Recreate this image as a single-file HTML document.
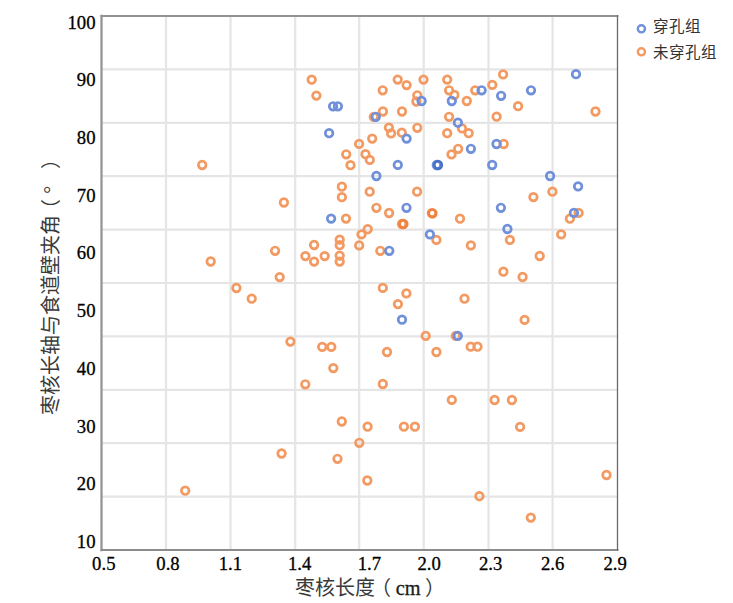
<!DOCTYPE html>
<html lang="zh-CN"><head><meta charset="utf-8"><title>scatter</title>
<style>html,body{margin:0;padding:0;background:#fff;width:733px;height:603px;overflow:hidden}svg{display:block}</style>
</head><body><svg width="733" height="603" viewBox="0 0 733 603"><rect x="0" y="0" width="733" height="603" fill="#fff"/><g stroke="#e5e5e5" stroke-width="2.2"><line x1="166.0" y1="16" x2="166.0" y2="550"/><line x1="230.5" y1="16" x2="230.5" y2="550"/><line x1="295.2" y1="16" x2="295.2" y2="550"/><line x1="359.2" y1="16" x2="359.2" y2="550"/><line x1="423.7" y1="16" x2="423.7" y2="550"/><line x1="488.5" y1="16" x2="488.5" y2="550"/><line x1="552.6" y1="16" x2="552.6" y2="550"/><line x1="101" y1="69.4" x2="617" y2="69.4"/><line x1="101" y1="122.8" x2="617" y2="122.8"/><line x1="101" y1="176.2" x2="617" y2="176.2"/><line x1="101" y1="229.6" x2="617" y2="229.6"/><line x1="101" y1="283.0" x2="617" y2="283.0"/><line x1="101" y1="336.4" x2="617" y2="336.4"/><line x1="101" y1="389.8" x2="617" y2="389.8"/><line x1="101" y1="443.2" x2="617" y2="443.2"/><line x1="101" y1="496.6" x2="617" y2="496.6"/></g><g fill="none" stroke-linecap="square"><line x1="101.5" y1="16" x2="101.5" y2="550" stroke="#959595" stroke-width="2.3"/><line x1="101.5" y1="550" x2="617.5" y2="550" stroke="#8c8c8c" stroke-width="2"/><line x1="101.5" y1="16" x2="617.5" y2="16" stroke="#939393" stroke-width="1.8"/><line x1="617.5" y1="16" x2="617.5" y2="550" stroke="#6a6a6a" stroke-width="1.3"/></g><g fill="none" stroke="#F39A63" stroke-width="2.7"><circle cx="202.2" cy="165" r="3.8"/><circle cx="210.7" cy="261.5" r="3.8"/><circle cx="185.2" cy="490.7" r="3.8"/><circle cx="311.7" cy="79.7" r="3.8"/><circle cx="316.4" cy="95.6" r="3.8"/><circle cx="359.1" cy="143.9" r="3.8"/><circle cx="346.2" cy="154.3" r="3.8"/><circle cx="350.5" cy="165.2" r="3.8"/><circle cx="341.9" cy="186.7" r="3.8"/><circle cx="341.9" cy="197.2" r="3.8"/><circle cx="283.9" cy="202.5" r="3.8"/><circle cx="346" cy="218.6" r="3.8"/><circle cx="275.1" cy="250.8" r="3.8"/><circle cx="279.7" cy="277.1" r="3.8"/><circle cx="236.4" cy="288" r="3.8"/><circle cx="251.7" cy="298.7" r="3.8"/><circle cx="314.1" cy="245" r="3.8"/><circle cx="305.4" cy="256.1" r="3.8"/><circle cx="314.1" cy="261.6" r="3.8"/><circle cx="324.7" cy="256.1" r="3.8"/><circle cx="339.7" cy="239.7" r="3.8"/><circle cx="339.7" cy="245.2" r="3.8"/><circle cx="339.7" cy="255.6" r="3.8"/><circle cx="339.7" cy="261.6" r="3.8"/><circle cx="290.4" cy="341.6" r="3.8"/><circle cx="322.2" cy="346.9" r="3.8"/><circle cx="331.3" cy="346.9" r="3.8"/><circle cx="333.3" cy="368.1" r="3.8"/><circle cx="305.3" cy="384.3" r="3.8"/><circle cx="341.8" cy="421.5" r="3.8"/><circle cx="281.6" cy="453.5" r="3.8"/><circle cx="337.5" cy="458.8" r="3.8"/><circle cx="397.7" cy="79.6" r="3.8"/><circle cx="406.6" cy="85.1" r="3.8"/><circle cx="423.5" cy="79.6" r="3.8"/><circle cx="382.7" cy="90.3" r="3.8"/><circle cx="417.3" cy="95.3" r="3.8"/><circle cx="416.4" cy="101.5" r="3.8"/><circle cx="382.9" cy="111.5" r="3.8"/><circle cx="402" cy="111.5" r="3.8"/><circle cx="373.8" cy="116.8" r="3.8"/><circle cx="447.2" cy="79.6" r="3.8"/><circle cx="449.1" cy="90.3" r="3.8"/><circle cx="454.4" cy="95" r="3.8"/><circle cx="466.8" cy="101" r="3.8"/><circle cx="475.2" cy="90.3" r="3.8"/><circle cx="449.1" cy="116.8" r="3.8"/><circle cx="388.9" cy="127.6" r="3.8"/><circle cx="391.1" cy="133.4" r="3.8"/><circle cx="401.8" cy="132.7" r="3.8"/><circle cx="417.3" cy="127.8" r="3.8"/><circle cx="372.2" cy="138.6" r="3.8"/><circle cx="365.5" cy="154.2" r="3.8"/><circle cx="369.8" cy="159.9" r="3.8"/><circle cx="462" cy="128.4" r="3.8"/><circle cx="468.7" cy="133.2" r="3.8"/><circle cx="447.2" cy="133.2" r="3.8"/><circle cx="458.2" cy="148.8" r="3.8"/><circle cx="451.5" cy="154.4" r="3.8"/><circle cx="369.7" cy="191.7" r="3.8"/><circle cx="417.1" cy="191.7" r="3.8"/><circle cx="376.4" cy="207.8" r="3.8"/><circle cx="389.1" cy="213" r="3.8"/><circle cx="402.0" cy="224" r="3.8"/><circle cx="431.8" cy="213.1" r="3.8"/><circle cx="460" cy="218.7" r="3.8"/><circle cx="367.7" cy="229.2" r="3.8"/><circle cx="361.5" cy="234.4" r="3.8"/><circle cx="359.2" cy="245.4" r="3.8"/><circle cx="380.3" cy="250.8" r="3.8"/><circle cx="436.4" cy="239.9" r="3.8"/><circle cx="470.9" cy="245.4" r="3.8"/><circle cx="382.8" cy="287.9" r="3.8"/><circle cx="406.4" cy="293.4" r="3.8"/><circle cx="397.9" cy="304.1" r="3.8"/><circle cx="464.5" cy="298.7" r="3.8"/><circle cx="425.7" cy="335.9" r="3.8"/><circle cx="455.8" cy="335.9" r="3.8"/><circle cx="387" cy="352" r="3.8"/><circle cx="436.4" cy="352" r="3.8"/><circle cx="470.7" cy="346.7" r="3.8"/><circle cx="477.5" cy="346.7" r="3.8"/><circle cx="382.8" cy="384" r="3.8"/><circle cx="451.8" cy="399.9" r="3.8"/><circle cx="367.6" cy="426.7" r="3.8"/><circle cx="403.9" cy="426.7" r="3.8"/><circle cx="414.9" cy="426.7" r="3.8"/><circle cx="359.3" cy="442.8" r="3.8"/><circle cx="367.3" cy="480.5" r="3.8"/><circle cx="479.4" cy="496.2" r="3.8"/><circle cx="503.1" cy="74.4" r="3.8"/><circle cx="492.3" cy="84.9" r="3.8"/><circle cx="518.1" cy="106.2" r="3.8"/><circle cx="496.6" cy="116.7" r="3.8"/><circle cx="595.5" cy="111.5" r="3.8"/><circle cx="503.7" cy="144" r="3.8"/><circle cx="552.4" cy="191.7" r="3.8"/><circle cx="533.4" cy="197.1" r="3.8"/><circle cx="578.6" cy="212.9" r="3.8"/><circle cx="569.9" cy="218.7" r="3.8"/><circle cx="509.9" cy="239.9" r="3.8"/><circle cx="539.7" cy="256" r="3.8"/><circle cx="503.4" cy="271.7" r="3.8"/><circle cx="522.6" cy="277" r="3.8"/><circle cx="561.2" cy="234.4" r="3.8"/><circle cx="524.6" cy="319.9" r="3.8"/><circle cx="494.6" cy="400" r="3.8"/><circle cx="511.9" cy="400" r="3.8"/><circle cx="520.1" cy="426.9" r="3.8"/><circle cx="606.5" cy="475" r="3.8"/><circle cx="530.8" cy="517.6" r="3.8"/></g><g fill="none" stroke="#7090DA" stroke-width="2.7"><circle cx="333.1" cy="106.3" r="3.8"/><circle cx="337.9" cy="106.3" r="3.8"/><circle cx="329.1" cy="133.2" r="3.8"/><circle cx="331.1" cy="218.6" r="3.8"/><circle cx="421.6" cy="101" r="3.8"/><circle cx="375.8" cy="116.8" r="3.8"/><circle cx="451.8" cy="101" r="3.8"/><circle cx="481.6" cy="90.3" r="3.8"/><circle cx="457.9" cy="122.7" r="3.8"/><circle cx="406.6" cy="138.6" r="3.8"/><circle cx="397.8" cy="164.9" r="3.8"/><circle cx="470.9" cy="148.8" r="3.8"/><circle cx="436.8" cy="165" r="3.8"/><circle cx="376.4" cy="176" r="3.8"/><circle cx="406.5" cy="207.8" r="3.8"/><circle cx="389.3" cy="250.8" r="3.8"/><circle cx="429.9" cy="234.4" r="3.8"/><circle cx="402" cy="319.7" r="3.8"/><circle cx="457.8" cy="335.9" r="3.8"/><circle cx="501.1" cy="95.8" r="3.8"/><circle cx="531" cy="90.3" r="3.8"/><circle cx="576" cy="74.2" r="3.8"/><circle cx="496.5" cy="144" r="3.8"/><circle cx="492.2" cy="165" r="3.8"/><circle cx="550.1" cy="176" r="3.8"/><circle cx="500.9" cy="207.8" r="3.8"/><circle cx="578.1" cy="186.4" r="3.8"/><circle cx="573.9" cy="212.9" r="3.8"/><circle cx="507.4" cy="229" r="3.8"/></g><g fill="none" stroke-width="2.7"><circle cx="432.5" cy="213.3" r="3.8" stroke="#EE8440"/><circle cx="403.4" cy="224" r="3.8" stroke="#EE8440"/></g><g fill="none" stroke-width="2.7"><circle cx="438.0" cy="165" r="3.8" stroke="#4A72C6"/></g><g font-family="Liberation Serif" font-size="18.7" fill="#000" stroke="#000" stroke-width="0.3"><text x="95.5" y="28.7" text-anchor="end">100</text><text x="95.5" y="86.4" text-anchor="end">90</text><text x="95.5" y="144.1" text-anchor="end">80</text><text x="95.5" y="201.7" text-anchor="end">70</text><text x="95.5" y="259.4" text-anchor="end">60</text><text x="95.5" y="317.1" text-anchor="end">50</text><text x="95.5" y="374.8" text-anchor="end">40</text><text x="95.5" y="432.5" text-anchor="end">30</text><text x="95.5" y="490.1" text-anchor="end">20</text><text x="95.5" y="547.8" text-anchor="end">10</text></g><g font-family="Liberation Serif" font-size="18.7" fill="#000" stroke="#000" stroke-width="0.3"><text x="103.8" y="569.5" text-anchor="middle">0.5</text><text x="168.0" y="569.5" text-anchor="middle">0.8</text><text x="230.4" y="569.5" text-anchor="middle">1.1</text><text x="299.6" y="569.5" text-anchor="middle">1.4</text><text x="369.4" y="569.5" text-anchor="middle">1.7</text><text x="429.2" y="569.5" text-anchor="middle">2.0</text><text x="490.6" y="569.5" text-anchor="middle">2.3</text><text x="552.7" y="569.5" text-anchor="middle">2.6</text><text x="615.1" y="569.5" text-anchor="middle">2.9</text></g><g font-family="Liberation Serif" font-size="20" fill="#3a3a3a"><text x="294.6" y="595">枣核长度</text><text x="371" y="595">（</text><text x="424.8" y="595">）</text></g><text x="395.8" y="595" font-family="Liberation Serif" font-size="20.3" fill="#1a1a1a" stroke="#1a1a1a" stroke-width="0.3">cm</text><g transform="translate(58,415) rotate(-90)" font-family="Liberation Serif" font-size="20" fill="#3a3a3a"><text x="0" y="0">枣核长轴与食道壁夹角</text><text x="196" y="0">（</text><text x="221.2" y="0">°</text><text x="246" y="0">）</text></g><circle cx="641.4" cy="28.8" r="3.6" fill="none" stroke="#7090DA" stroke-width="2.4"/><circle cx="641.4" cy="51.8" r="3.6" fill="none" stroke="#F39A63" stroke-width="2.4"/><g font-family="Liberation Sans" font-size="15.5" fill="#333"><text x="653" y="32">穿孔组</text><text x="653" y="58">未穿孔组</text></g></svg></body></html>
